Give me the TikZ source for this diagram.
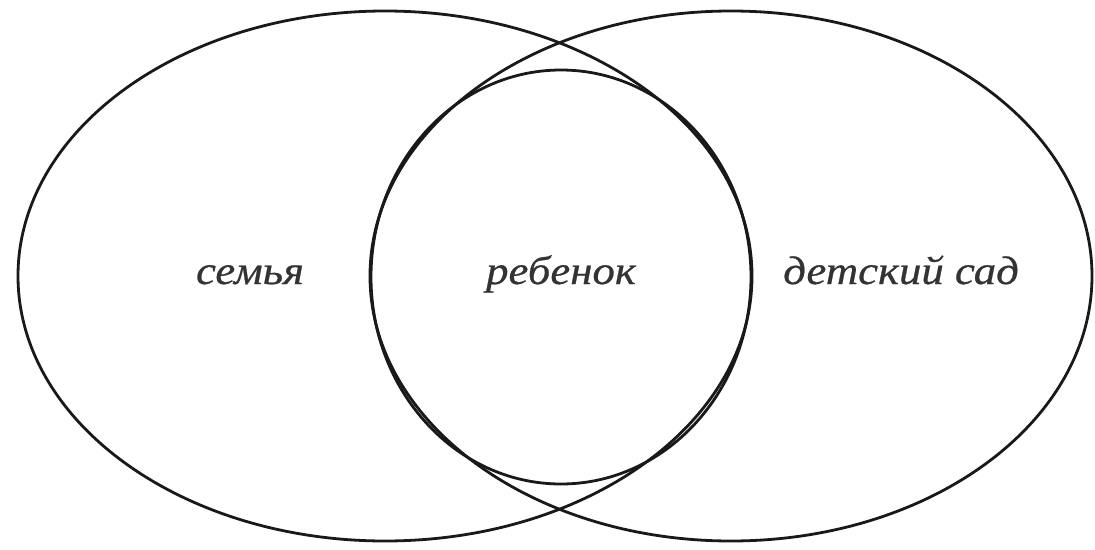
\documentclass[tikz,border=0pt]{standalone}
\usepackage{fontspec}
\newfontfamily\labelfont[FakeStretch=1.12,FakeBold=0.6]{Liberation Serif}

\begin{document}
\begin{tikzpicture}[
  x=1pt,y=-1pt,
  ring/.style={line width=2.8pt,black!90},
  word/.style={font=\labelfont\fontsize{40}{44}\selectfont\itshape,anchor=base,text=black!80}
]
  \useasboundingbox (0,0) rectangle (1095,549);
  % two outer fields and the child in between
  \draw[ring] (385,276) ellipse [x radius=367,y radius=265];
  \draw[ring] (731,276) ellipse [x radius=361,y radius=265];
  \draw[ring] (561,277) ellipse [x radius=190,y radius=207];

  \node[word] (family) at (250,284) {семья};
  \node[word] (child) at (561,284) {ребенок};
  \node[word] (kindergarten) at (901,284) {детский сад};
\end{tikzpicture}
\end{document}
